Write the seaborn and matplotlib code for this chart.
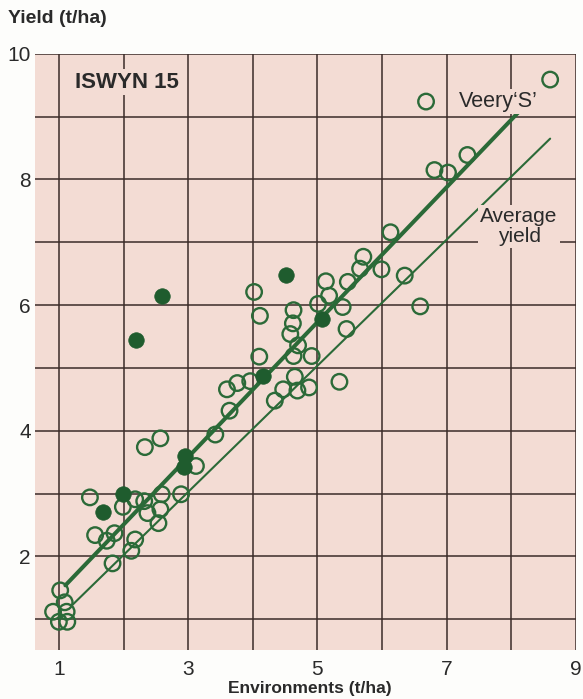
import matplotlib
matplotlib.use("Agg")
import matplotlib.pyplot as plt
import seaborn as sns
import pandas as pd

# ---------- data ----------
# open circles: Veery 'S' yield vs environment mean
open_env = [6.68, 8.60, 7.32, 6.81, 7.02, 6.13, 5.71, 5.66, 5.47, 5.99, 6.35, 6.59,
            5.39, 5.45, 5.13, 5.18, 5.01, 4.91, 4.63, 4.62, 4.58, 4.70, 4.63, 4.10,
            4.02, 4.11, 4.65, 4.87, 4.69, 4.47, 4.34, 5.34, 3.96, 3.76, 3.60, 3.64,
            3.42, 3.12, 2.57, 2.33, 2.89, 2.59, 2.57, 2.54, 2.32, 2.18, 2.37, 1.99,
            1.48, 1.56, 1.74, 1.86, 2.18, 2.12, 1.83, 1.02, 1.09, 0.91, 1.12, 1.00, 1.13]
open_yield = [9.24, 9.59, 8.39, 8.15, 8.11, 7.16, 6.77, 6.58, 6.37, 6.57, 6.47, 5.98,
              5.97, 5.62, 6.38, 6.15, 6.02, 5.19, 5.92, 5.71, 5.54, 5.36, 5.19, 5.18,
              6.21, 5.83, 4.86, 4.69, 4.64, 4.66, 4.48, 4.78, 4.79, 4.76, 4.66, 4.32,
              3.94, 3.44, 3.88, 3.74, 2.99, 2.99, 2.75, 2.53, 2.88, 2.91, 2.69, 2.79,
              2.94, 2.34, 2.25, 2.37, 2.27, 2.09, 1.89, 1.46, 1.27, 1.12, 1.12, 0.96, 0.96]

# filled circles
fill_env = [2.19, 2.59, 4.52, 5.07, 4.15, 2.95, 2.93, 1.99, 1.69]
fill_yield = [5.45, 6.14, 6.48, 5.78, 4.88, 3.60, 3.42, 2.99, 2.71]

# regression line for Veery 'S' and the average-yield line
veery_x = [1.10, 8.10]
veery_y = [1.54, 9.06]
avg_x = [1.20, 8.60]
avg_y = [1.22, 8.65]

x_ticks = [1, 3, 5, 7, 9]
y_ticks = [2, 4, 6, 8, 10]

# ---------- style ----------
sns.set_style("white")
plt.rcParams['font.family'] = ['Liberation Sans', 'DejaVu Sans']

pink = '#f3dcd4'
grid_col = '#3a2b28'
green = '#2b6a38'
green_dark = '#1f5c2e'
txt = '#2a2a2a'

fig = plt.figure(figsize=(5.83, 6.99), dpi=100, facecolor='#fdfdfb')
ax = fig.add_axes([0.060, 0.070, 0.928, 0.853])
ax.set_facecolor(pink)

ax.set_xlim(0.63, 9.0)
ax.set_ylim(0.51, 10.0)

# grid at every unit
ax.set_xticks(range(1, 10), minor=True)
ax.set_yticks(range(1, 11), minor=True)
ax.set_xticks(x_ticks)
ax.set_yticks(y_ticks)
ax.grid(True, which='both', color=grid_col, linewidth=1.1)
ax.set_axisbelow(True)
for s in ax.spines.values():
    s.set_visible(False)

ax.tick_params(axis='both', which='major', labelsize=15, colors=txt,
               length=4, width=1.1, direction='out')
ax.tick_params(axis='x', which='major', pad=3)
ax.tick_params(axis='y', which='major', pad=1, length=2)
ax.tick_params(which='minor', length=0)

# lines
sns.lineplot(x=veery_x, y=veery_y, color=green, linewidth=2.9, ax=ax, zorder=2)
sns.lineplot(x=avg_x, y=avg_y, color=green, linewidth=1.5, ax=ax, zorder=2)

# points
open_df = pd.DataFrame({'env': open_env, 'yield': open_yield})
fill_df = pd.DataFrame({'env': fill_env, 'yield': fill_yield})
sns.scatterplot(data=open_df, x='env', y='yield', ax=ax, s=125, facecolor='none',
                edgecolor=green, linewidth=1.7, zorder=4)
sns.scatterplot(data=fill_df, x='env', y='yield', ax=ax, s=125, color=green_dark,
                edgecolor=green_dark, linewidth=0.5, zorder=4)

# labels
ax.text(1.25, 9.55, 'ISWYN 15', fontsize=16, fontweight='bold', color=txt,
        ha='left', va='center', bbox=dict(facecolor=pink, edgecolor='none', pad=2))
ax.text(7.19, 9.24, 'Veery‘S’', fontsize=15.5, color=txt, ha='left', va='center',
        bbox=dict(facecolor=pink, edgecolor='none', pad=1.5), zorder=3)
ax.text(8.12, 7.25, 'Average\nyield', fontsize=15, color=txt, ha='center',
        va='center', linespacing=1.1,
        bbox=dict(facecolor=pink, edgecolor='none', pad=1.5), zorder=3)

ax.set_xlabel('Environments (t/ha)', fontsize=12.5, fontweight='bold', color=txt,
              va='top')
ax.xaxis.set_label_coords(0.508, -0.052)
ax.set_ylabel('Yield (t/ha)', fontsize=14, fontweight='bold', color=txt,
              rotation=0, ha='left', va='center')
ax.yaxis.set_label_coords(-0.05, 1.060)

fig.savefig('out.png', dpi=100, facecolor=fig.get_facecolor())
